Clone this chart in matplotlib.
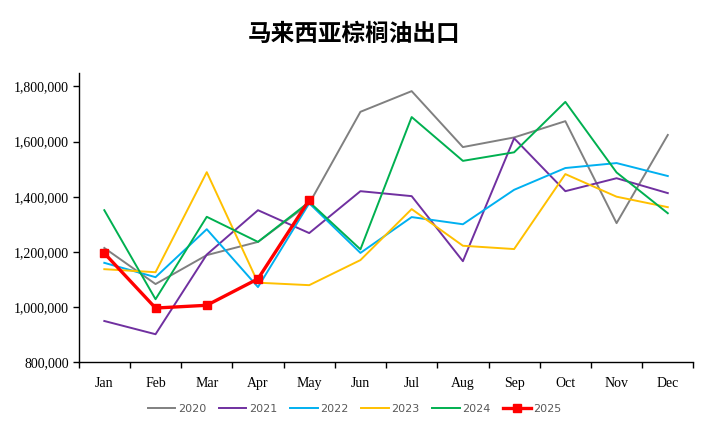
import numpy as np
import matplotlib.pyplot as plt
from matplotlib.ticker import FuncFormatter, FixedLocator

months = ['Jan', 'Feb', 'Mar', 'Apr', 'May', 'Jun',
          'Jul', 'Aug', 'Sep', 'Oct', 'Nov', 'Dec']

exp_2020 = [1214000, 1083000, 1188000, 1236000, 1375000, 1708000,
            1783000, 1580000, 1615000, 1674000, 1304000, 1624000]
exp_2021 = [949000, 901000, 1190000, 1351000, 1268000, 1420000,
            1402000, 1166000, 1612000, 1420000, 1467000, 1413000]
exp_2022 = [1160000, 1108000, 1282000, 1072000, 1376000, 1196000,
            1326000, 1300000, 1425000, 1504000, 1522000, 1475000]
exp_2023 = [1137000, 1126000, 1489000, 1088000, 1079000, 1170000,
            1355000, 1222000, 1210000, 1482000, 1400000, 1362000]
exp_2024 = [1351000, 1028000, 1327000, 1236000, 1381000, 1209000,
            1689000, 1530000, 1561000, 1744000, 1488000, 1340000]
exp_2025 = [1195000, 996000, 1006000, 1102000, 1388000]

series = [
    ('2020', exp_2020, '#808080'),
    ('2021', exp_2021, '#7030A0'),
    ('2022', exp_2022, '#00B0F0'),
    ('2023', exp_2023, '#FFC000'),
    ('2024', exp_2024, '#00B050'),
]

fig = plt.figure(figsize=(7.09, 4.30), dpi=100)
ax = fig.add_axes([0.111, 0.158, 0.867, 0.673])

x = np.arange(len(months))
for name, vals, col in series:
    ax.plot(x[:len(vals)], vals, color=col, linewidth=1.4, label=name)
ax.plot(x[:len(exp_2025)], exp_2025, color='#FF0000', linewidth=2.4,
        marker='s', markersize=5.5, label='2025')

ax.set_xlim(-0.5, 11.5)
ax.set_ylim(800000, 1850000)
ax.set_yticks(np.arange(800000, 1800001, 200000))
ax.yaxis.set_major_formatter(FuncFormatter(lambda v, p: f'{int(v):,}'))

# ticks on category boundaries, labels centred in each band
ax.xaxis.set_major_locator(FixedLocator(np.arange(-0.5, 12, 1)))
ax.xaxis.set_major_formatter(FuncFormatter(lambda v, p: ''))
ax.xaxis.set_minor_locator(FixedLocator(x))
ax.set_xticklabels(months, minor=True)
ax.tick_params(axis='x', which='minor', length=0, pad=11)
ax.tick_params(axis='x', which='major', direction='out', length=4, width=1)
ax.tick_params(axis='y', direction='out', length=4, width=1, pad=3)

for lab in ax.get_xticklabels(minor=True) + ax.get_yticklabels():
    lab.set_fontfamily('Liberation Serif')
    lab.set_fontsize(10)

for side in ['top', 'right']:
    ax.spines[side].set_visible(False)
for side in ['left', 'bottom']:
    ax.spines[side].set_linewidth(1.0)

fig.text(0.5, 0.92, '马来西亚棕榈油出口', ha='center', va='center',
         fontsize=17, fontweight='bold', family=['Noto Sans CJK SC', 'DejaVu Sans'])

leg = fig.legend(loc='center', bbox_to_anchor=(0.5, 0.048), ncol=6, frameon=False,
                 fontsize=8, handlelength=2.5, columnspacing=1.15, handletextpad=0.2)
for t in leg.get_texts():
    t.set_color('#595959')

fig.savefig('out.png', dpi=100)
